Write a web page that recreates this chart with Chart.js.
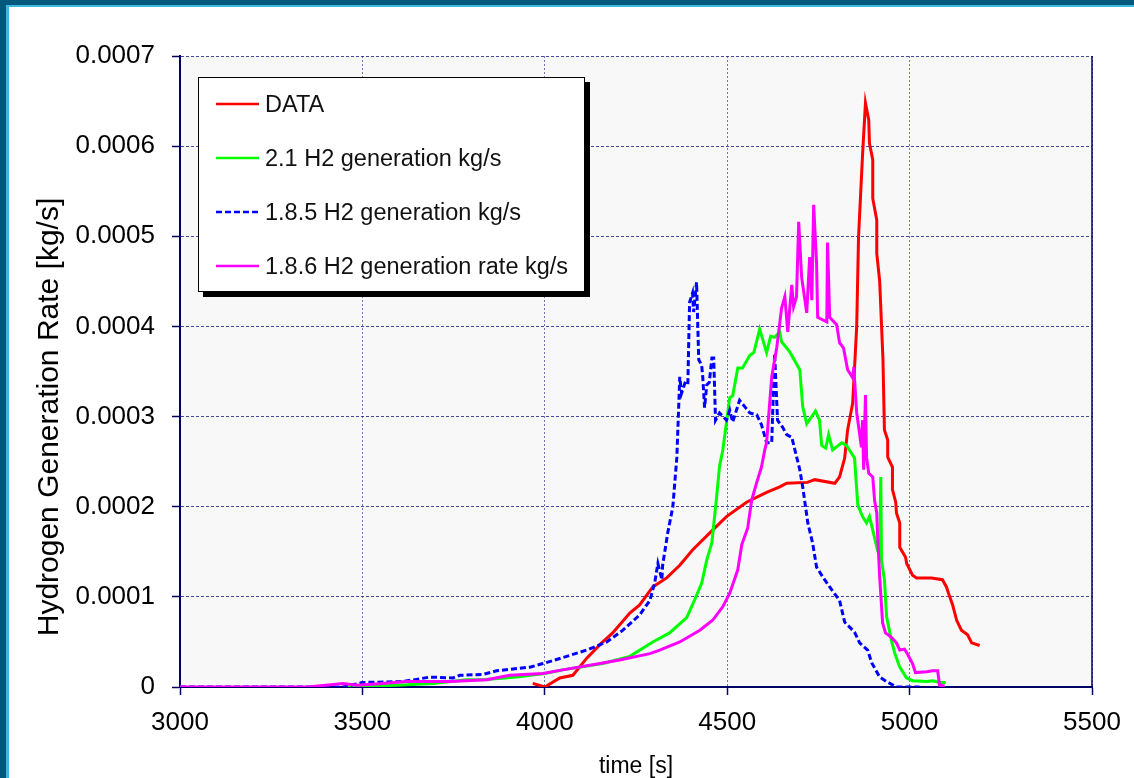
<!DOCTYPE html>
<html>
<head>
<meta charset="utf-8">
<title>Hydrogen Generation Rate</title>
<script src="https://cdn.jsdelivr.net/npm/chart.js@4.4.1/dist/chart.umd.min.js"></script>
<style>
    html, body { margin: 0; padding: 0; background: #ffffff; }
    #wrap { position: relative; width: 1134px; height: 778px; overflow: hidden; }
    #legend {
        position: absolute; left: 198px; top: 77px; width: 385px; height: 213px;
        background: #ffffff; border: 1.5px solid #000000; box-shadow: 5px 5px 0 #000000;
        font-family: Arial, "Liberation Sans", sans-serif; font-size: 23.5px; color: #111111;
    }
    .row { position: absolute; left: 17px; height: 30px; display: flex; align-items: center; white-space: nowrap; }
    .row svg { margin-right: 6px; }
</style>
</head>
<body>
<div id="wrap">
    <canvas id="h2Chart" width="1134" height="778"></canvas>
    <div id="legend"></div>
</div>
<script>
// time axis ticks and value ticks
const timeTicks = [3000, 3500, 4000, 4500, 5000, 5500];
const rateTicks = [0, 0.0001, 0.0002, 0.0003, 0.0004, 0.0005, 0.0006, 0.0007];

const seriesNames = ['DATA', '2.1 H2 generation kg/s', '1.8.5 H2 generation kg/s', '1.8.6 H2 generation rate kg/s'];
const yTitle = 'Hydrogen Generation Rate [kg/s]';

// DATA (measured)
const dataTime = [3967, 4000, 4041, 4077, 4115, 4156, 4186, 4233, 4260, 4296, 4334, 4370, 4405, 4460, 4498, 4553, 4608, 4644, 4663, 4720, 4740, 4795, 4808, 4822, 4830, 4844, 4855, 4860, 4871, 4879, 4888, 4890, 4899, 4899, 4910, 4910, 4918, 4927, 4931, 4940, 4940, 4953, 4953, 4962, 4964, 4973, 4973, 4989, 4992, 5008, 5019, 5060, 5090, 5101, 5110, 5118, 5129, 5142, 5159, 5170, 5192];
const dataRate = [0.000004, 0.000000, 0.000010, 0.000013, 0.000032, 0.000049, 0.000060, 0.000082, 0.000091, 0.000111, 0.000121, 0.000135, 0.000152, 0.000174, 0.000189, 0.000205, 0.000216, 0.000222, 0.000226, 0.000227, 0.000230, 0.000226, 0.000233, 0.000254, 0.000285, 0.000315, 0.000400, 0.000499, 0.000590, 0.000648, 0.000629, 0.000603, 0.000585, 0.000542, 0.000518, 0.000481, 0.000450, 0.000363, 0.000285, 0.000274, 0.000255, 0.000244, 0.000219, 0.000205, 0.000193, 0.000182, 0.000155, 0.000144, 0.000137, 0.000124, 0.000121, 0.000121, 0.000119, 0.000111, 0.000100, 0.000091, 0.000074, 0.000063, 0.000058, 0.000049, 0.000046];

// 2.1 H2 generation
const v21Time = [3450, 3479, 3594, 3693, 3786, 3830, 3923, 4000, 4049, 4159, 4233, 4296, 4342, 4389, 4411, 4430, 4444, 4458, 4471, 4479, 4488, 4507, 4515, 4529, 4542, 4562, 4573, 4589, 4608, 4619, 4630, 4644, 4649, 4671, 4699, 4707, 4718, 4742, 4753, 4759, 4770, 4778, 4789, 4814, 4827, 4849, 4858, 4871, 4882, 4890, 4899, 4912, 4918, 4921, 4923, 4931, 4937, 4950, 4959, 4973, 4992, 5008, 5047, 5063, 5082, 5099];
const v21Rate = [0.000000, 0.000000, 0.000002, 0.000004, 0.000008, 0.000008, 0.000011, 0.000015, 0.000019, 0.000026, 0.000034, 0.000050, 0.000060, 0.000077, 0.000097, 0.000115, 0.000141, 0.000160, 0.000211, 0.000245, 0.000263, 0.000321, 0.000323, 0.000354, 0.000354, 0.000368, 0.000371, 0.000397, 0.000371, 0.000389, 0.000388, 0.000394, 0.000383, 0.000372, 0.000352, 0.000311, 0.000292, 0.000306, 0.000296, 0.000268, 0.000265, 0.000280, 0.000263, 0.000271, 0.000268, 0.000254, 0.000202, 0.000189, 0.000182, 0.000189, 0.000174, 0.000152, 0.000145, 0.000233, 0.000140, 0.000119, 0.000078, 0.000052, 0.000038, 0.000022, 0.000010, 0.000007, 0.000006, 0.000007, 0.000005, 0.000005];

// 1.8.5 H2 generation
const v185Time = [3000, 3450, 3499, 3611, 3685, 3748, 3767, 3830, 3868, 3959, 3995, 4060, 4115, 4170, 4214, 4260, 4288, 4301, 4310, 4321, 4323, 4337, 4351, 4362, 4370, 4375, 4384, 4392, 4397, 4405, 4408, 4416, 4422, 4430, 4433, 4438, 4444, 4451, 4458, 4463, 4468, 4479, 4498, 4507, 4515, 4534, 4548, 4562, 4581, 4594, 4608, 4622, 4630, 4638, 4652, 4663, 4677, 4699, 4707, 4721, 4734, 4745, 4762, 4781, 4808, 4822, 4849, 4863, 4885, 4896, 4918, 4937, 4964, 5027];
const v185Rate = [0.000000, 0.000000, 0.000005, 0.000006, 0.000011, 0.000010, 0.000013, 0.000014, 0.000018, 0.000022, 0.000026, 0.000034, 0.000041, 0.000050, 0.000063, 0.000080, 0.000096, 0.000115, 0.000137, 0.000119, 0.000135, 0.000171, 0.000200, 0.000255, 0.000344, 0.000326, 0.000337, 0.000335, 0.000427, 0.000437, 0.000416, 0.000449, 0.000363, 0.000357, 0.000344, 0.000310, 0.000335, 0.000338, 0.000365, 0.000365, 0.000296, 0.000304, 0.000296, 0.000307, 0.000294, 0.000318, 0.000311, 0.000304, 0.000302, 0.000291, 0.000271, 0.000271, 0.000370, 0.000296, 0.000288, 0.000280, 0.000277, 0.000241, 0.000222, 0.000182, 0.000160, 0.000133, 0.000122, 0.000111, 0.000096, 0.000072, 0.000061, 0.000049, 0.000041, 0.000027, 0.000011, 0.000006, 0.000000, 0.000000];

// 1.8.6 H2 generation rate
const v186Time = [3000, 3352, 3447, 3485, 3556, 3621, 3740, 3841, 3904, 3995, 4049, 4151, 4205, 4288, 4315, 4370, 4425, 4460, 4488, 4507, 4529, 4540, 4556, 4567, 4581, 4594, 4603, 4608, 4622, 4636, 4649, 4658, 4666, 4677, 4682, 4690, 4696, 4704, 4718, 4726, 4732, 4737, 4745, 4748, 4773, 4775, 4781, 4800, 4808, 4819, 4830, 4844, 4847, 4855, 4868, 4871, 4874, 4879, 4882, 4888, 4899, 4904, 4910, 4912, 4918, 4926, 4934, 4950, 4964, 4973, 4986, 4995, 5008, 5016, 5047, 5063, 5077, 5082, 5096];
const v186Rate = [0.000000, 0.000000, 0.000004, 0.000002, 0.000004, 0.000006, 0.000006, 0.000008, 0.000013, 0.000015, 0.000019, 0.000026, 0.000030, 0.000037, 0.000041, 0.000050, 0.000063, 0.000074, 0.000089, 0.000104, 0.000130, 0.000158, 0.000176, 0.000207, 0.000227, 0.000244, 0.000263, 0.000271, 0.000344, 0.000377, 0.000420, 0.000433, 0.000394, 0.000446, 0.000422, 0.000433, 0.000516, 0.000455, 0.000415, 0.000477, 0.000429, 0.000535, 0.000470, 0.000410, 0.000405, 0.000493, 0.000410, 0.000402, 0.000382, 0.000376, 0.000352, 0.000343, 0.000355, 0.000304, 0.000266, 0.000296, 0.000241, 0.000324, 0.000255, 0.000237, 0.000233, 0.000207, 0.000193, 0.000171, 0.000122, 0.000071, 0.000060, 0.000055, 0.000049, 0.000041, 0.000042, 0.000036, 0.000026, 0.000016, 0.000017, 0.000018, 0.000018, 0.000002, 0.000001];

const NAVY = '#000066';
const FONT = 'Arial, "Liberation Sans", sans-serif';

function toPoints(xs, ys) {
    return xs.map((x, i) => ({ x: x, y: ys[i] }));
}

// blue frame round the picture, grey plot background, y title (sits lower than centre)
const framePlugin = {
    id: 'frame',
    beforeDraw(chart) {
        const c = chart.ctx;
        const a = chart.chartArea;
        c.save();
        c.fillStyle = '#ffffff';
        c.fillRect(0, 0, chart.width, chart.height);
        c.fillStyle = '#00587c';
        c.fillRect(0, 0, chart.width, 5);
        c.fillRect(0, 0, 6, chart.height);
        c.fillStyle = '#3fb6dc';
        c.fillRect(6, 5, chart.width - 6, 2);
        c.fillRect(6, 5, 3, chart.height - 5);
        c.fillStyle = '#f8f8f8';
        c.fillRect(a.left, a.top, a.right - a.left, a.bottom - a.top);
        c.restore();
    },
    afterDraw(chart) {
        const c = chart.ctx;
        const a = chart.chartArea;
        c.save();
        c.strokeStyle = NAVY;
        c.lineWidth = 1.5;
        c.beginPath();
        c.moveTo(a.right, a.top);
        c.lineTo(a.right, a.bottom);
        c.stroke();

        c.translate(50, 417);
        c.rotate(-Math.PI / 2);
        c.font = '30px ' + FONT;
        c.fillStyle = '#000000';
        c.textAlign = 'center';
        c.textBaseline = 'middle';
        c.fillText(yTitle, 0, 0);
        c.restore();
    }
};

const ctx = document.getElementById('h2Chart').getContext('2d');
const h2Chart = new Chart(ctx, {
    type: 'line',
    data: {
        datasets: [{
            label: seriesNames[0],
            data: toPoints(dataTime, dataRate),
            borderColor: '#ff0000',
            order: 4
        }, {
            label: seriesNames[1],
            data: toPoints(v21Time, v21Rate),
            borderColor: '#00ff00',
            order: 3
        }, {
            label: seriesNames[2],
            data: toPoints(v185Time, v185Rate),
            borderColor: '#0000ff',
            borderDash: [6, 3],
            order: 2
        }, {
            label: seriesNames[3],
            data: toPoints(v186Time, v186Rate),
            borderColor: '#ff00ff',
            order: 1
        }]
    },
    options: {
        responsive: false,
        animation: false,
        events: [],
        layout: { padding: { top: 56, right: 42, left: 0, bottom: 0 } },
        elements: {
            point: { radius: 0 },
            line: { borderWidth: 3, tension: 0, fill: false }
        },
        plugins: {
            legend: { display: false },
            tooltip: { enabled: false }
        },
        scales: {
            x: {
                type: 'linear',
                min: timeTicks[0],
                max: timeTicks[timeTicks.length - 1],
                afterFit(scale) { scale.height = 91; },
                afterBuildTicks(scale) { scale.ticks = timeTicks.map(v => ({ value: v })); },
                ticks: {
                    color: '#000000',
                    padding: 12,
                    maxRotation: 0,
                    font: { family: FONT, size: 26 },
                    callback: value => String(value)
                },
                grid: {
                    color: 'rgba(70,70,165,0.75)',
                    lineWidth: 1,
                    tickLength: 8,
                    tickColor: NAVY,
                    tickWidth: 1.5,
                    tickBorderDash: [0, 0]
                },
                border: { color: NAVY, width: 2, dash: [2, 2] },
                title: {
                    display: true,
                    text: 'time [s]',
                    color: '#000000',
                    padding: { top: 0, bottom: -2 },
                    font: { family: FONT, size: 23 }
                }
            },
            y: {
                min: rateTicks[0],
                max: rateTicks[rateTicks.length - 1],
                afterFit(scale) { scale.width = 180; },
                afterBuildTicks(scale) { scale.ticks = rateTicks.map(v => ({ value: v })); },
                ticks: {
                    color: '#000000',
                    padding: 17,
                    font: { family: FONT, size: 26 },
                    callback: value => value === 0 ? '0' : value.toFixed(4)
                },
                grid: {
                    color: 'rgba(40,40,140,0.85)',
                    lineWidth: 1,
                    tickLength: 8,
                    tickColor: NAVY,
                    tickWidth: 1.5,
                    tickBorderDash: [0, 0]
                },
                border: { color: NAVY, width: 2, dash: [3, 2] }
            }
        }
    },
    plugins: [framePlugin]
});

// legend box drawn as html from the chart's datasets
function buildLegend(chart) {
    const box = document.getElementById('legend');
    chart.data.datasets.forEach((ds, i) => {
        const row = document.createElement('div');
        row.className = 'row';
        row.style.top = (11 + i * 54) + 'px';
        const dash = ds.borderDash ? ds.borderDash.join(' ') : 'none';
        row.innerHTML = '<svg width="43" height="6"><line x1="0" y1="3" x2="43" y2="3" stroke="' +
            ds.borderColor + '" stroke-width="2.5" stroke-dasharray="' + dash + '"/></svg>';
        const label = document.createElement('span');
        label.textContent = ds.label;
        row.appendChild(label);
        box.appendChild(row);
    });
}
buildLegend(h2Chart);
</script>
</body>
</html>
